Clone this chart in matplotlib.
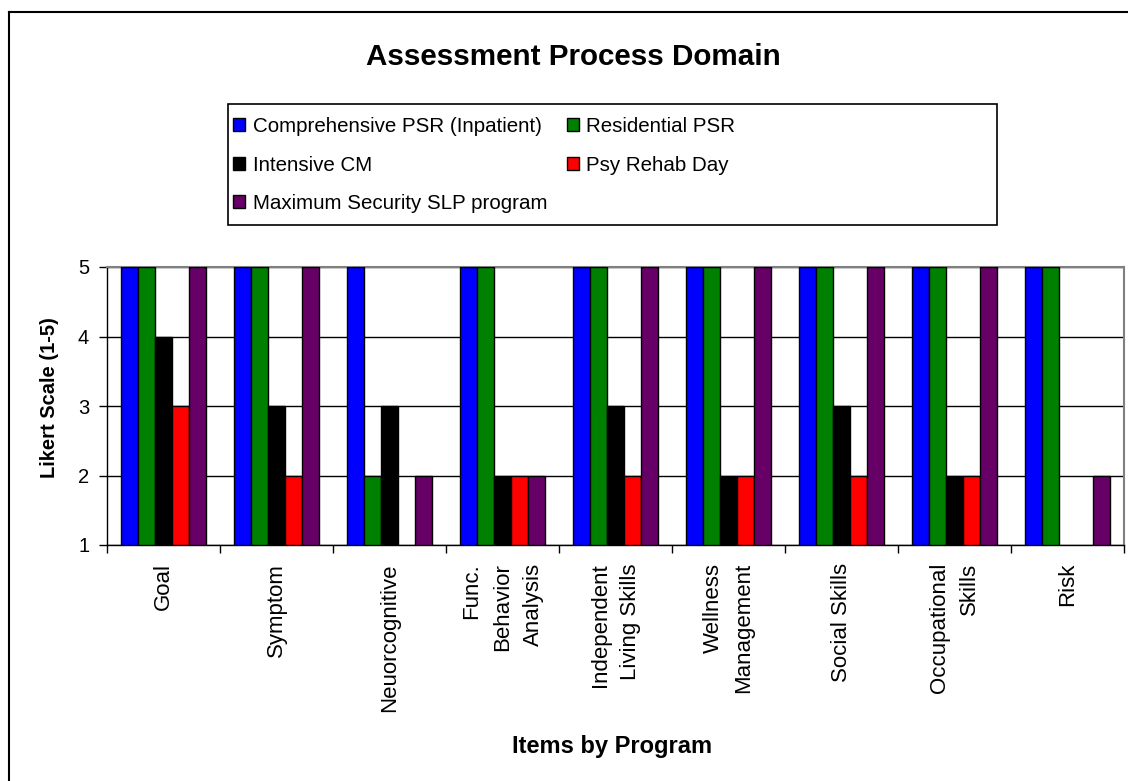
import numpy as np
import matplotlib
matplotlib.use('Agg')
import matplotlib.pyplot as plt
from matplotlib.patches import Rectangle
from matplotlib.lines import Line2D

plt.rcParams['font.family'] = ['Liberation Sans', 'DejaVu Sans']

categories = ['Goal', 'Symptom', 'Neuorcognitive', 'Func.\nBehavior\nAnalysis',
              'Independent\nLiving Skills', 'Wellness\nManagement', 'Social Skills',
              'Occupational\nSkills', 'Risk']
programs = ['Comprehensive PSR (Inpatient)', 'Residential PSR', 'Intensive CM',
            'Psy Rehab Day', 'Maximum Security SLP program']
comprehensive = [5, 5, 5, 5, 5, 5, 5, 5, 5]
residential = [5, 5, 2, 5, 5, 5, 5, 5, 5]
intensive_cm = [4, 3, 3, 2, 3, 2, 3, 2, np.nan]
psy_rehab = [3, 2, np.nan, 2, 2, 2, 2, 2, np.nan]
max_security = [5, 5, 2, 2, 5, 5, 5, 5, 2]
colors = ['#0000ff', '#008000', '#000000', '#ff0000', '#660066']

series = [comprehensive, residential, intensive_cm, psy_rehab, max_security]

W, H = 1128, 781
fig = plt.figure(figsize=(W / 100, H / 100), dpi=100)
fig.patch.set_facecolor('white')

# plot area in pixels: x 107..1124, y 267..545
ax = fig.add_axes([107 / W, 1 - 545 / H, (1124 - 107) / W, (545 - 267) / H])

x = np.arange(len(categories))
w = 0.152
for i, (vals, c, lab) in enumerate(zip(series, colors, programs)):
    v = np.array(vals, dtype=float)
    ax.bar(x + (i - 2) * w, v - 1, bottom=1, width=w, color=c,
           edgecolor='black', linewidth=1.0, label=lab, zorder=3)

ax.set_xlim(-0.5, len(categories) - 0.5)
ax.set_ylim(1, 5)
ax.set_yticks([1, 2, 3, 4, 5])
ax.yaxis.grid(True, color='black', linewidth=1.0, zorder=0)
ax.set_axisbelow(True)

ax.set_xticks(x)
ax.set_xticklabels(categories, rotation=90, ha='center', va='top',
                   multialignment='right', fontsize=16, linespacing=1.6)
ax.set_xticks(np.arange(len(categories) + 1) - 0.5, minor=True)
ax.tick_params(axis='x', which='major', length=0, pad=13)
ax.tick_params(axis='x', which='minor', length=5.8, width=1.0, direction='out')
ax.tick_params(axis='y', length=5.8, width=1.0, direction='out', labelsize=14.5, pad=7)

for s in ['top', 'right']:
    ax.spines[s].set_color('#808080')
    ax.spines[s].set_linewidth(1.5)
for s in ['left', 'bottom']:
    ax.spines[s].set_color('black')
    ax.spines[s].set_linewidth(1.0)

# titles and axis labels
fig.text(573 / W, 1 - 65 / H, 'Assessment Process Domain', ha='center',
         va='baseline', fontsize=21.3, fontweight='bold')
fig.text(50 / W, 1 - 398 / H, 'Likert Scale (1-5)', rotation=90, ha='center',
         va='center', fontsize=14.5, fontweight='bold')
fig.text(612 / W, 1 - 753 / H, 'Items by Program', ha='center',
         va='baseline', fontsize=17, fontweight='bold')

# legend
handles, labels = ax.get_legend_handles_labels()
order = [0, 2, 4, 1, 3]
fig.legend([handles[k] for k in order], [labels[k] for k in order], ncol=2,
           loc='upper left', bbox_to_anchor=(233 / W, 1 - 117 / H),
           bbox_transform=fig.transFigure, frameon=False, fontsize=14.8,
           handlelength=0.6, handleheight=0.6, handletextpad=0.35,
           columnspacing=0.95, labelspacing=0.95, borderpad=0, borderaxespad=0)
fig.add_artist(Rectangle((228 / W, 1 - 225 / H), (997 - 228) / W, (225 - 104) / H,
                         transform=fig.transFigure, fill=False,
                         edgecolor='black', linewidth=1.2))

# outer chart border (cut off at right and bottom)
fig.add_artist(Line2D([9 / W, 1], [1 - 12 / H, 1 - 12 / H],
                      transform=fig.transFigure, color='black', linewidth=1.5))
fig.add_artist(Line2D([9 / W, 9 / W], [0, 1 - 12 / H],
                      transform=fig.transFigure, color='black', linewidth=1.5))

fig.savefig('out.png', dpi=100)
